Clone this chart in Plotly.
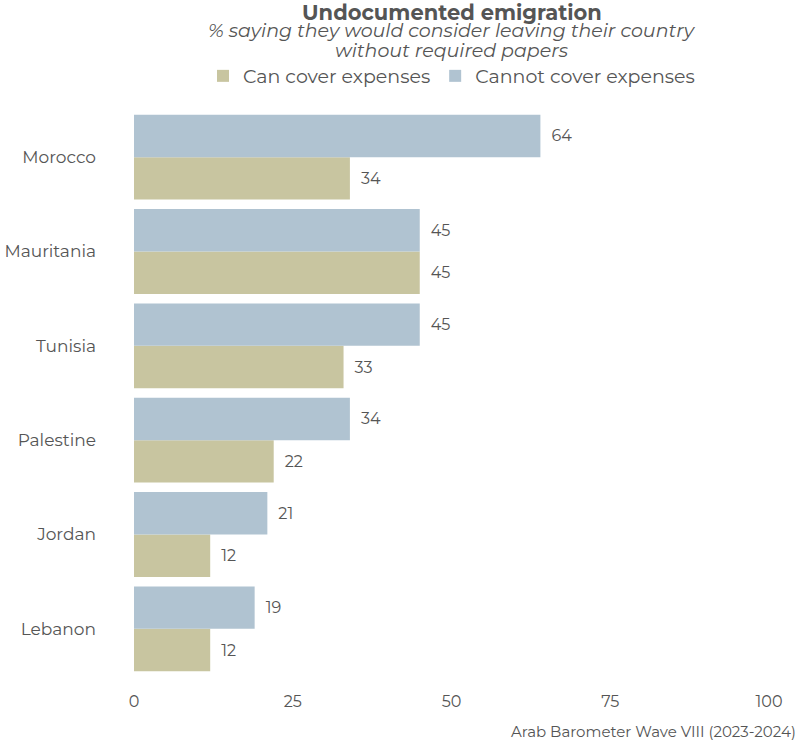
import plotly.graph_objects as go

countries = ["Morocco", "Mauritania", "Tunisia", "Palestine", "Jordan", "Lebanon"]
can_cover = [34, 45, 33, 22, 12, 12]
cannot_cover = [64, 45, 45, 34, 21, 19]
x_ticks = [0, 25, 50, 75, 100]

FONT = "Montserrat, Inter, 'Open Sans', sans-serif"
TXT = "#555555"
W, H = 800, 740
ML, MR, MT, MB = 134, 31, 110, 64
PH = H - MT - MB
PW = W - ML - MR

fig = go.Figure()
fig.add_trace(go.Bar(
    y=countries, x=can_cover, name="Can cover expenses", orientation="h",
    marker=dict(color="#c8c5a0", line=dict(width=0)),
    texttemplate="\u2002%{x}", textposition="outside", cliponaxis=False,
    textfont=dict(size=16, color=TXT, family=FONT),
))
fig.add_trace(go.Bar(
    y=countries, x=cannot_cover, name="Cannot cover expenses", orientation="h",
    marker=dict(color="#b0c3d1", line=dict(width=0)),
    texttemplate="\u2002%{x}", textposition="outside", cliponaxis=False,
    textfont=dict(size=16, color=TXT, family=FONT),
))

fig.update_layout(
    width=W, height=H,
    margin=dict(l=ML, r=MR, t=MT, b=MB, autoexpand=False),
    paper_bgcolor="white", plot_bgcolor="white",
    barmode="group", bargap=0.1, bargroupgap=0,
    font=dict(family=FONT, color=TXT, size=15),
    showlegend=True,
    legend=dict(orientation="h", x=0.5, xanchor="center", y=1 + (MT - 76) / PH,
                yanchor="middle", font=dict(size=19, color=TXT), traceorder="normal",
                itemwidth=30, tracegroupgap=0),
    xaxis=dict(range=[0, 100], tickvals=x_ticks, showgrid=False, zeroline=False,
               showline=False, ticks="", automargin=False, ticklabelstandoff=14,
               tickfont=dict(size=16, color=TXT)),
    yaxis=dict(categoryorder="array", categoryarray=countries[::-1], showgrid=False,
               ticks="", ticklabelstandoff=37, automargin=False,
               tickfont=dict(size=17, color=TXT)),
    annotations=[
        dict(text="<b>Undocumented emigration</b>", xref="paper", yref="paper",
             x=0.5, y=1.0 + (MT - 12) / PH, xanchor="center", yanchor="middle",
             showarrow=False, font=dict(size=21, color=TXT)),
        dict(text="<i>% saying they would consider leaving their country</i>",
             xref="paper", yref="paper", x=0.5, y=1.0 + (MT - 31) / PH,
             xanchor="center", yanchor="middle", showarrow=False,
             font=dict(size=19, color=TXT)),
        dict(text="<i>without required papers</i>",
             xref="paper", yref="paper", x=0.5, y=1.0 + (MT - 51) / PH,
             xanchor="center", yanchor="middle", showarrow=False,
             font=dict(size=19, color=TXT)),
        dict(text="Arab Barometer Wave VIII (2023-2024)", xref="paper", yref="paper",
             x=1.0 + (MR - 2) / PW, y=-(731 - (H - MB)) / PH, xanchor="right",
             yanchor="middle", showarrow=False, font=dict(size=15, color=TXT)),
    ],
)

fig.write_html("out.html", config={"displayModeBar": False},
               post_script="document.body.style.margin='0';")
